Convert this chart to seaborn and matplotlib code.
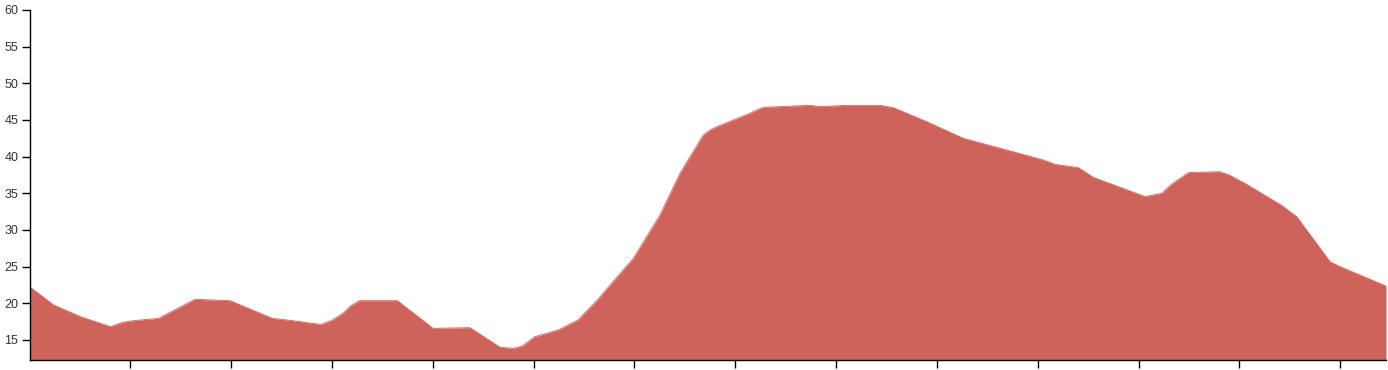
import matplotlib
matplotlib.use("Agg")
import matplotlib.pyplot as plt
import seaborn as sns
import pandas as pd

# x positions (in tick units) and values
x_pos = [0.0, 0.239, 0.505, 0.801, 0.925, 1.036, 1.279, 1.641, 1.989, 2.408,
         2.607, 2.851, 2.895, 3.006, 3.117, 3.183, 3.272, 3.648, 4.002, 4.369,
         4.666, 4.799, 4.887, 5.011, 5.242, 5.440, 5.638, 5.727, 5.988, 6.253,
         6.451, 6.551, 6.682, 6.749, 6.815, 7.145, 7.212, 7.278, 7.741, 7.840,
         8.105, 8.435, 8.567, 8.898, 9.261, 9.628, 10.054, 10.17, 10.402, 10.55,
         11.063, 11.228, 11.328, 11.493, 11.799, 11.898, 12.064, 12.411, 12.567, 12.897,
         12.997, 13.453]
values = [22.27, 19.77, 18.18, 16.82, 17.41, 17.64, 17.95, 20.55, 20.36, 17.95,
          17.64, 17.18, 17.14, 17.73, 18.73, 19.64, 20.36, 20.36, 16.59, 16.68,
          14.0, 13.86, 14.18, 15.45, 16.36, 17.73, 20.55, 22.0, 26.14, 32.05,
          37.73, 40.0, 42.95, 43.64, 44.09, 45.91, 46.36, 46.73, 47.0, 46.82,
          47.0, 47.0, 46.68, 44.77, 42.5, 41.14, 39.55, 38.95, 38.5, 37.18,
          34.55, 35.0, 36.27, 37.82, 37.95, 37.5, 36.27, 33.41, 31.82, 25.68,
          25.0, 22.36]
y_ticks = [15, 20, 25, 30, 35, 40, 45, 50, 55, 60]
x_ticks = list(range(1, 14))

df = pd.DataFrame({"x": x_pos, "v": values})

sns.set_style("ticks")
plt.rcParams["font.family"] = ["Liberation Sans", "DejaVu Sans"]

color = "#CD635A"
fig = plt.figure(figsize=(13.88, 3.70), dpi=100)
ax = fig.add_axes([29.5 / 1388, 10 / 370, (1386 - 29.5) / 1388, 350 / 370])

ymin = 12.27
ax.fill_between(df["x"], ymin, df["v"], color=color, linewidth=0)
sns.lineplot(data=df, x="x", y="v", ax=ax, color=color, linewidth=0.6)

ax.set_xlim(0, 13.453)
ax.set_ylim(ymin, 60)
ax.set_yticks(y_ticks)
ax.set_yticklabels([str(t) for t in y_ticks])
ax.set_xticks(x_ticks)
ax.set_xticklabels([""] * len(x_ticks))
ax.set_xlabel("")
ax.set_ylabel("")

for s in ["top", "right"]:
    ax.spines[s].set_visible(False)
for s in ["left", "bottom"]:
    ax.spines[s].set_color("#000000")
    ax.spines[s].set_linewidth(1.0)
ax.tick_params(axis="both", length=6, width=1, color="#000000",
               labelsize=9, labelcolor="#333333", pad=2)

fig.savefig("out.png", dpi=100, facecolor="white")
